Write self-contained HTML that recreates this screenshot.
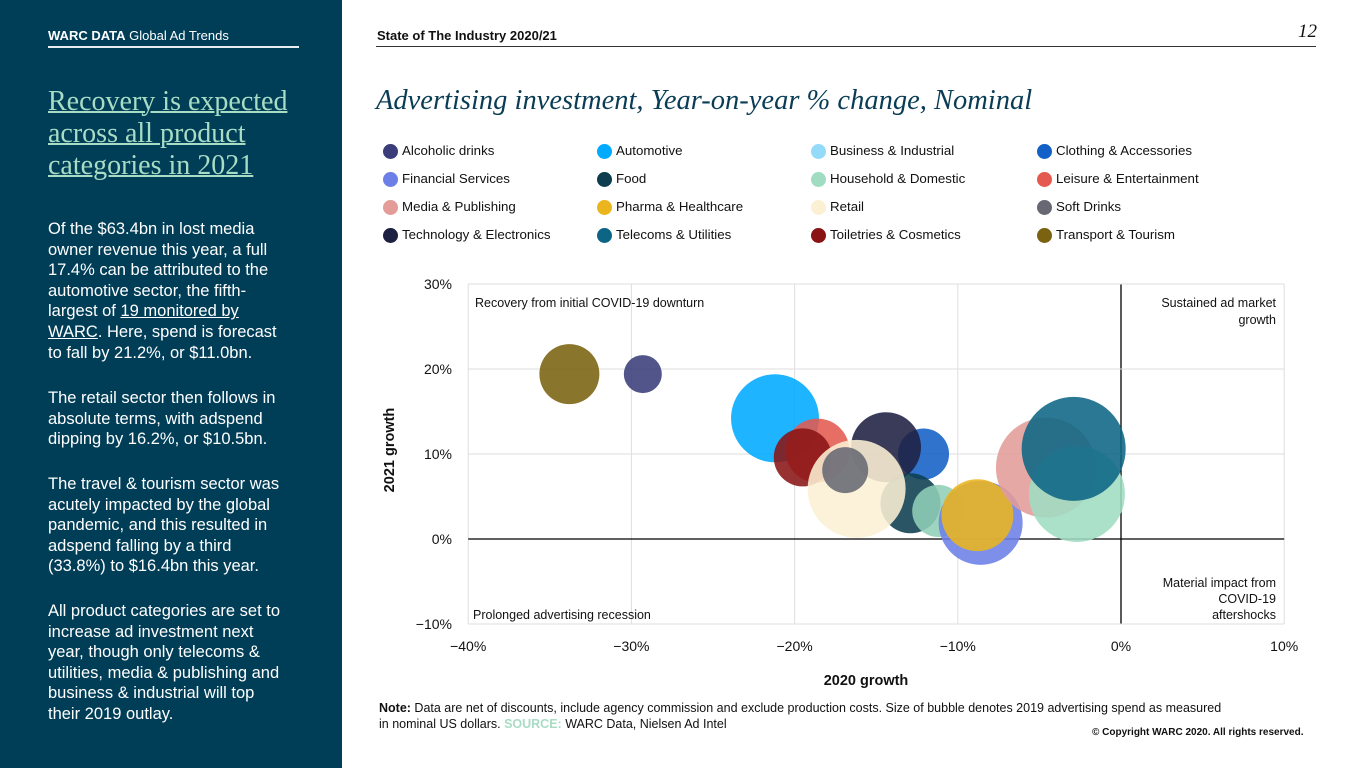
<!DOCTYPE html>
<html><head><meta charset="utf-8">
<style>
body{margin:0;width:1365px;height:768px;position:relative;background:#fff;font-family:"Liberation Sans",sans-serif;overflow:hidden}
.abs{position:absolute;white-space:nowrap}
#left{position:absolute;left:0;top:0;width:342px;height:768px;background:#003e58}
.body{position:absolute;left:48px;color:#fff;font-size:16.5px;line-height:20.6px;white-space:nowrap}
.leg{position:absolute;font-size:13.3px;color:#111}
.leg i{position:absolute;left:-19px;top:1px;width:15px;height:15px;border-radius:50%}
</style></head><body>
<div id="left">
 <div class="abs" style="left:48px;top:28px;color:#fff;font-size:13px"><b>WARC DATA</b> Global Ad Trends</div>
 <div class="abs" style="left:48px;top:46px;width:251px;height:2px;background:#e8eef0"></div>
 <div class="abs" style="left:48px;top:86px;color:#a8dcc4;font-family:'Liberation Serif',serif;font-size:28px;line-height:32px;text-decoration:underline;text-decoration-thickness:2px;white-space:normal;width:250px">Recovery is expected across all product categories in 2021</div>
 <div class="body" style="top:219px">Of the $63.4bn in lost media<br>owner revenue this year, a full<br>17.4% can be attributed to the<br>automotive sector, the fifth-<br>largest of <u>19 monitored by<br>WARC</u>. Here, spend is forecast<br>to fall by 21.2%, or $11.0bn.</div>
 <div class="body" style="top:388px">The retail sector then follows in<br>absolute terms, with adspend<br>dipping by 16.2%, or $10.5bn.</div>
 <div class="body" style="top:474px">The travel &amp; tourism sector was<br>acutely impacted by the global<br>pandemic, and this resulted in<br>adspend falling by a third<br>(33.8%) to $16.4bn this year.</div>
 <div class="body" style="top:601px">All product categories are set to<br>increase ad investment next<br>year, though only telecoms &amp;<br>utilities, media &amp; publishing and<br>business &amp; industrial will top<br>their 2019 outlay.</div>
</div>
<div class="abs" style="left:377px;top:28px;font-size:13px;font-weight:bold;color:#111">State of The Industry 2020/21</div>
<div class="abs" style="left:1298px;top:21px;font-size:19px;font-style:italic;font-family:'Liberation Serif',serif;color:#111">12</div>
<div class="abs" style="left:376px;top:46px;width:940px;height:1px;background:#333"></div>
<div class="abs" style="left:376px;top:85px;font-size:28.5px;font-style:italic;font-family:'Liberation Serif',serif;color:#0a3d55">Advertising investment, Year-on-year % change, Nominal</div>
<div id="legend"></div>
<svg id="chart" class="abs" style="left:0;top:0" width="1365" height="768"></svg>
<div class="abs" style="left:379px;top:700px;font-size:12.5px;line-height:16px;color:#111"><b>Note:</b> Data are net of discounts, include agency commission and exclude production costs. Size of bubble denotes 2019 advertising spend as measured<br>in nominal US dollars. <b style="color:#a8dcc4">SOURCE:</b> WARC Data, Nielsen Ad Intel</div>
<div class="abs" style="left:1092px;top:727px;font-size:10px;font-weight:bold;color:#111">© Copyright WARC 2020. All rights reserved.</div>
<script>
const categories=["Alcoholic drinks","Automotive","Business & Industrial","Clothing & Accessories","Financial Services","Food","Household & Domestic","Leisure & Entertainment","Media & Publishing","Pharma & Healthcare","Retail","Soft Drinks","Technology & Electronics","Telecoms & Utilities","Toiletries & Cosmetics","Transport & Tourism"];
const growth2020=[-29.3,-21.2,-11.2,-12.1,-8.6,-12.9,-2.7,-18.6,-4.6,-8.8,-16.2,-16.9,-14.4,-2.9,-19.5,-33.8];
const growth2021=[19.4,14.2,3.3,10.0,1.9,4.2,5.3,10.4,8.4,2.8,5.9,8.1,10.8,10.6,9.6,19.4];
const spend2019=[9.7,52,18.2,17.5,47.4,24.2,61.9,27.5,67.2,34.8,64.5,14.2,32.9,72.7,22.6,24.2];
const xTicks=[-40,-30,-20,-10,0,10];
const yTicks=[-10,0,10,20,30];
const colors=["#3a3d7a","#00aaff","#94dbfa","#1360c6","#6b7fe6","#0d3d4f","#9fdcc2","#e45a50","#e39c98","#ebb51e","#fcf0d4","#676873","#1e2042","#0d6585","#8a1414","#7a6210"];
const legendOrder=[0,1,2,3,4,5,6,7,8,9,10,11,12,13,14,15];
const drawOrder=[15,0,1,7,3,12,14,5,10,11,2,4,9,8,6,13];
const bubbleColors={2:"#8fcfb8"};
const X=v=>1121+(v/10)*163.2, Y=v=>539-(v/10)*85, R=s=>Math.sqrt(s)*6.1;
const NS="http://www.w3.org/2000/svg", svg=document.getElementById('chart');
function mk(t,a){const e=document.createElementNS(NS,t);for(const k in a)e.setAttribute(k,a[k]);svg.appendChild(e);return e;}
const lg=document.getElementById('legend');
const colX=[402,616,830,1056], rowY=[143,171,199,227];
legendOrder.forEach((ci,k)=>{
 const d=document.createElement('div');d.className='leg';
 
 
 d.style.left=colX[k%4]+'px';d.style.top=rowY[Math.floor(k/4)]+'px';
 d.innerHTML='<i style="background:'+colors[ci]+'"></i>'+categories[ci].replace('&','&amp;');
 lg.appendChild(d);
});
xTicks.forEach(t=>{
 const l=mk('line',{x1:X(t),x2:X(t),y1:Y(30),y2:Y(-10),stroke:t===0?'#000':'#dedede','stroke-width':t===0?1.3:1});
 
 
 const tx=mk('text',{x:X(t),y:651,'text-anchor':'middle','font-size':14,fill:'#111'});tx.textContent=(t<0?'−':'')+Math.abs(t)+'%';
 
 
});
yTicks.forEach(t=>{
 const l=mk('line',{x1:X(-40),x2:X(10),y1:Y(t),y2:Y(t),stroke:t===0?'#000':'#dedede','stroke-width':t===0?1.3:1});
 
 
 const tx=mk('text',{x:452,y:Y(t)+5,'text-anchor':'end','font-size':14,fill:'#111'});tx.textContent=(t<0?'−':'')+Math.abs(t)+'%';
 
 
});
drawOrder.forEach(i=>{
 const c=mk('circle',{cx:X(growth2020[i]),cy:Y(growth2021[i]),r:R(spend2019[i]),fill:bubbleColors[i]||colors[i],'fill-opacity':0.88});
 
 
});
function lab(txt,x,y,anchor,name){const t=mk('text',{x:x,y:y,'text-anchor':anchor,'font-size':12.5,fill:'#111'});t.textContent=txt;
 
 }
lab('Recovery from initial COVID-19 downturn',475,307,'start','quadrant-label');
lab('Sustained ad market',1276,307,'end','quadrant-label');
lab('growth',1276,324,'end','quadrant-label');
lab('Prolonged advertising recession',473,619,'start','quadrant-label');
lab('Material impact from',1276,587,'end','quadrant-label');
lab('COVID-19',1276,603,'end','quadrant-label');
lab('aftershocks',1276,619,'end','quadrant-label');
const xt=mk('text',{x:866,y:685,'text-anchor':'middle','font-size':14.5,'font-weight':'bold',fill:'#111'});xt.textContent='2020 growth';


const yt=mk('text',{x:394,y:450,'text-anchor':'middle','font-size':14.5,'font-weight':'bold',fill:'#111',transform:'rotate(-90 394 450)'});yt.textContent='2021 growth';


</script>
</body></html>
